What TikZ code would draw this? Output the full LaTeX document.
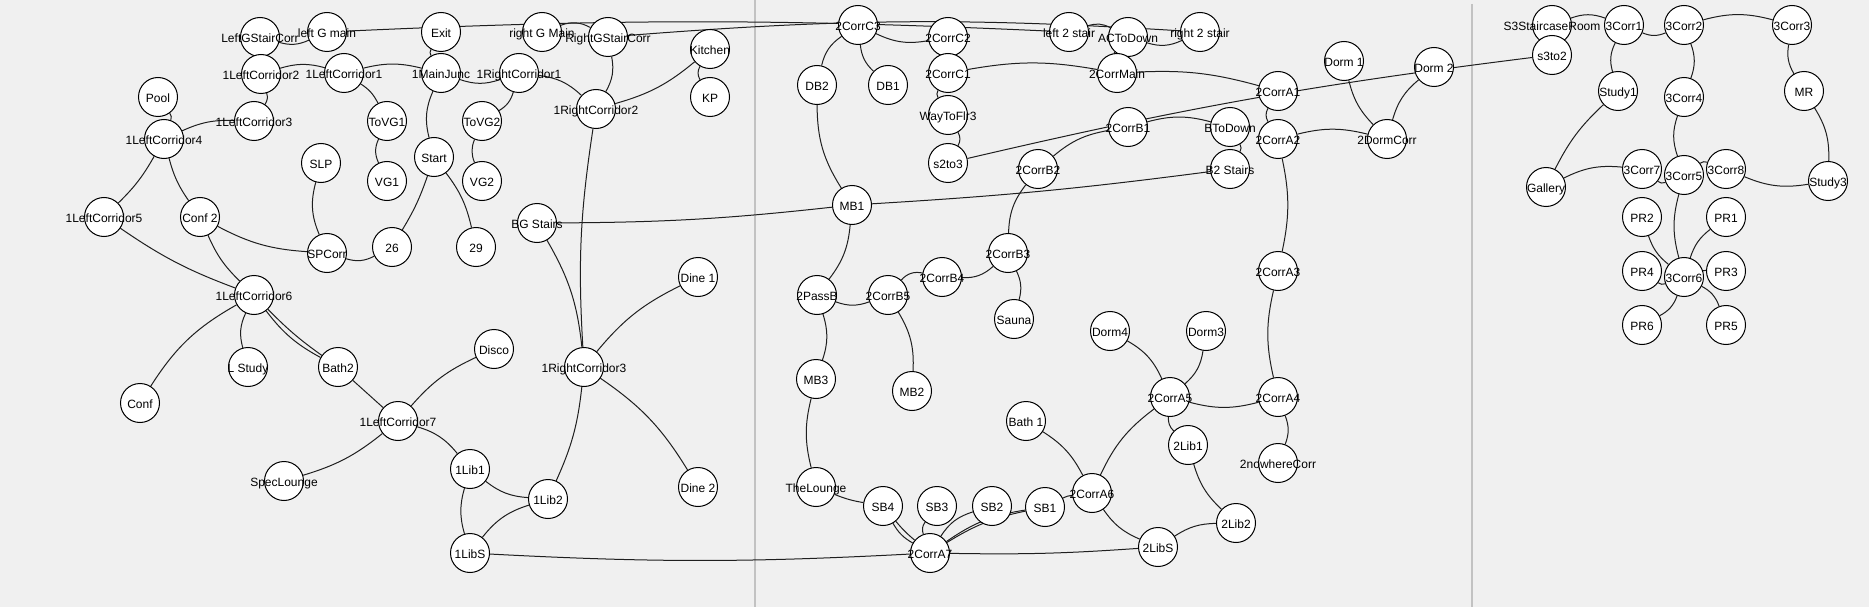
\documentclass[tikz,border=0pt]{standalone}
\usepackage{fontspec}
\setmainfont{Liberation Sans}
\pgfdeclarelayer{bg}
\pgfdeclarelayer{edges}
\pgfdeclarelayer{labels}
\pgfsetlayers{bg,edges,main,labels}
\tikzset{
  vtx/.style={circle,draw=black,fill=white,line width=1pt,minimum size=39pt,inner sep=0pt},
  lbl/.style={inner sep=0pt,text height=8.6pt,text depth=0pt,font=\fontsize{12}{14}\selectfont},
  edge/.style={draw=black!88,line width=1pt},
  sepline/.style={draw=black!24,line width=2.8pt}
}
\newcommand\V[4]{\node[vtx] (#1) at (#2,#3) {};%
  \begin{pgfonlayer}{labels}\node[lbl] (#1-t) at (#2,#3+1) {#4};\end{pgfonlayer}}
\newcommand\E[3]{\draw[edge] (#1) to[#3] (#2);}
\begin{document}
\begin{tikzpicture}[x=1pt,y=-1pt]
\useasboundingbox (0,0) rectangle (1869,607);
\begin{pgfonlayer}{bg}
  \fill[fill={rgb,255:red,240;green,240;blue,240}] (0,0) rectangle (1869,607);
  \coordinate (sa1) at (755,0); \coordinate (sa2) at (755,607);
  \coordinate (sb1) at (1472,4); \coordinate (sb2) at (1472,607);
  \draw[sepline] (sa1) -- (sa2);
  \draw[sepline] (sb1) -- (sb2);
\end{pgfonlayer}
% ---------- floor 1 ----------
\V{LGSC}{260}{37}{LeftGStairCorr}
\V{LGM}{327}{32}{left G main}
\V{Exit}{441}{32}{Exit}
\V{LC2}{261}{74}{1LeftCorridor2}
\V{LC1}{344}{73}{1LeftCorridor1}
\V{MJ}{441}{73}{1MainJunc}
\V{Pool}{158}{97}{Pool}
\V{LC4}{164}{139}{1LeftCorridor4}
\V{LC3}{254}{121}{1LeftCorridor3}
\V{ToVG1}{387}{121}{ToVG1}
\V{SLP}{321}{163}{SLP}
\V{VG1}{387}{181}{VG1}
\V{Start}{434}{157}{Start}
\V{LC5}{104}{217}{1LeftCorridor5}
\V{Conf2}{200}{217}{Conf 2}
\V{SPCorr}{327}{253}{SPCorr}
\V{n26}{392}{247}{26}
\V{LC6}{254}{295}{1LeftCorridor6}
\V{LStudy}{248}{367}{L Study}
\V{Bath2}{338}{367}{Bath2}
\V{Conf}{140}{403}{Conf}
\V{LC7}{398}{421}{1LeftCorridor7}
\V{SpecLounge}{284}{481}{SpecLounge}
\V{Lib1}{470}{469}{1Lib1}
\V{LibS}{470}{553}{1LibS}
\V{Lib2}{548}{499}{1Lib2}
\V{Disco}{494}{349}{Disco}
\V{RGM}{542}{32}{right G Main}
\V{RGSC}{608}{37}{RightGStairCorr}
\V{Kitchen}{710}{49}{Kitchen}
\V{KP}{710}{97}{KP}
\V{RC1}{519}{73}{1RightCorridor1}
\V{RC2}{596}{109}{1RightCorridor2}
\V{ToVG2}{482}{121}{ToVG2}
\V{VG2}{482}{181}{VG2}
\V{n29}{476}{247}{29}
\V{BGS}{537}{223}{BG Stairs}
\V{RC3}{584}{367}{1RightCorridor3}
\V{Dine1}{698}{277}{Dine 1}
\V{Dine2}{698}{487}{Dine 2}
% ---------- floor 2 ----------
\V{C3}{858}{25}{2CorrC3}
\V{DB2}{817}{85}{DB2}
\V{DB1}{888}{85}{DB1}
\V{MB1}{852}{205}{MB1}
\V{PassB}{817}{295}{2PassB}
\V{B5}{888}{295}{2CorrB5}
\V{MB3}{816}{379}{MB3}
\V{MB2}{912}{391}{MB2}
\V{Lounge}{816}{487}{TheLounge}
\V{SB4}{883}{506}{SB4}
\V{SB3}{937}{506}{SB3}
\V{SB2}{992}{506}{SB2}
\V{SB1}{1045}{507}{SB1}
\V{A7}{930}{553}{2CorrA7}
\V{C2}{948}{37}{2CorrC2}
\V{L2S}{1069}{32}{left 2 stair}
\V{ACTD}{1128}{37}{ACToDown}
\V{R2S}{1200}{32}{right 2 stair}
\V{C1}{948}{73}{2CorrC1}
\V{CMain}{1117}{73}{2CorrMain}
\V{Dorm1}{1344}{61}{Dorm 1}
\V{A1}{1278}{91}{2CorrA1}
\V{W3}{948}{115}{WayToFlr3}
\V{B1}{1128}{127}{2CorrB1}
\V{BTD}{1230}{127}{BToDown}
\V{A2}{1278}{139}{2CorrA2}
\V{s2to3}{948}{163}{s2to3}
\V{B2}{1038}{169}{2CorrB2}
\V{B2S}{1230}{169}{B2 Stairs}
\V{B3}{1008}{253}{2CorrB3}
\V{B4}{942}{277}{2CorrB4}
\V{A3}{1278}{271}{2CorrA3}
\V{DormCorr}{1387}{139}{2DormCorr}
\V{Dorm2}{1434}{67}{Dorm 2}
\V{Sauna}{1014}{319}{Sauna}
\V{Dorm4}{1110}{331}{Dorm4}
\V{Dorm3}{1206}{331}{Dorm3}
\V{A5}{1170}{397}{2CorrA5}
\V{A4}{1278}{397}{2CorrA4}
\V{Bath1}{1026}{421}{Bath 1}
\V{Lib21}{1188}{445}{2Lib1}
\V{Nowhere}{1278}{463}{2nowhereCorr}
\V{A6}{1092}{493}{2CorrA6}
\V{Lib22}{1236}{523}{2Lib2}
\V{LibS2}{1158}{547}{2LibS}
% ---------- floor 3 ----------
\V{S3}{1552}{25}{S3StaircaseRoom}
\V{s3to2}{1552}{55}{s3to2}
\V{T1}{1624}{25}{3Corr1}
\V{T2}{1684}{25}{3Corr2}
\V{T3}{1792}{25}{3Corr3}
\V{Study1}{1618}{91}{Study1}
\V{T4}{1684}{97}{3Corr4}
\V{MR}{1804}{91}{MR}
\V{Gallery}{1546}{187}{Gallery}
\V{T7}{1642}{169}{3Corr7}
\V{T5}{1684}{175}{3Corr5}
\V{T8}{1726}{169}{3Corr8}
\V{Study3}{1828}{181}{Study3}
\V{PR2}{1642}{217}{PR2}
\V{PR1}{1726}{217}{PR1}
\V{PR4}{1642}{271}{PR4}
\V{T6}{1684}{277}{3Corr6}
\V{PR3}{1726}{271}{PR3}
\V{PR6}{1642}{325}{PR6}
\V{PR5}{1726}{325}{PR5}
% ---------- edges ----------
\begin{pgfonlayer}{edges}
\E{LGSC}{LGM}{bend right=20}
\E{LGM}{L2S}{bend left=2.6}
\E{Exit}{MJ}{bend right=30}
\E{LC2}{LC1}{bend left=16}
\E{LC1}{MJ}{bend left=14}
\E{LC2}{LC3}{bend left=25}
\E{Pool}{LC4}{bend left=28}
\E{LC4}{LC3}{bend left=13}
\E{LC1}{ToVG1}{bend left=15}
\E{ToVG1}{VG1}{bend right=25}
\E{MJ}{Start}{bend right=19}
\E{MJ}{RC1}{bend right=19}
\E{LC4}{LC5}{bend left=8}
\E{LC4}{Conf2}{bend right=10}
\E{SLP}{SPCorr}{bend right=19}
\E{Start}{n26}{bend left=6}
\E{Start}{n29}{bend left=12}
\E{Conf2}{SPCorr}{bend right=12}
\E{SPCorr}{n26}{bend right=22}
\E{LC5}{LC6}{bend right=7}
\E{Conf2}{LC6}{bend right=11}
\E{LC6}{Conf}{bend right=14}
\E{LC6}{LStudy}{bend right=20}
\E{LC6}{Bath2}{bend right=5}
\E{LC6}{Bath2}{bend right=12}
\E{Bath2}{LC7}{}
\E{LC7}{Disco}{bend left=12}
\E{LC7}{SpecLounge}{bend left=11}
\E{LC7}{Lib1}{bend left=17}
\E{Lib1}{LibS}{bend right=16}
\E{Lib1}{Lib2}{bend right=17}
\E{LibS}{Lib2}{bend left=17}
\E{LibS}{A7}{bend right=3}
\E{RC1}{ToVG2}{bend left=21}
\E{ToVG2}{VG2}{bend right=22}
\E{RC1}{RC2}{bend left=18}
\E{RGSC}{RC2}{bend left=20}
\E{RC2}{Kitchen}{bend right=12}
\E{Kitchen}{KP}{bend right=30}
\E{RC2}{RC3}{bend right=6}
\E{BGS}{RC3}{bend left=12}
\E{BGS}{MB1}{bend right=3}
\E{RC3}{Dine1}{bend left=12}
\E{RC3}{Dine2}{bend left=12}
\E{RC3}{Lib2}{bend left=9}
\E{RGM}{RGSC}{bend left=24}
\E{RGSC}{R2S}{bend left=4}
\E{C3}{C2}{bend right=18}
\E{C3}{DB2}{bend right=21}
\E{C3}{DB1}{bend right=20}
\E{DB2}{MB1}{bend right=16}
\E{MB1}{PassB}{bend left=16}
\E{MB1}{B2S}{bend right=2}
\E{PassB}{B5}{bend right=20}
\E{B5}{B4}{bend left=30}
\E{B4}{B3}{bend right=22}
\E{B3}{Sauna}{bend left=20}
\E{B3}{B2}{bend left=18}
\E{B2}{B1}{bend left=15}
\E{s2to3}{s3to2}{bend left=3}
\E{B1}{BTD}{bend left=15}
\E{BTD}{B2S}{bend left=30}
\E{C1}{W3}{bend right=30}
\E{W3}{s2to3}{bend left=30}
\E{C1}{CMain}{bend left=10}
\E{CMain}{A1}{bend left=9}
\E{ACTD}{CMain}{bend right=25}
\E{L2S}{ACTD}{bend left=23}
\E{ACTD}{R2S}{bend right=21}
\E{A1}{A2}{bend right=30}
\E{A2}{DormCorr}{bend left=14}
\E{Dorm1}{DormCorr}{bend right=15}
\E{Dorm2}{DormCorr}{bend right=17}
\E{A2}{A3}{bend left=12}
\E{A3}{A4}{bend right=13}
\E{A4}{Nowhere}{bend left=21}
\E{A5}{A4}{bend right=15}
\E{Dorm4}{A5}{bend left=18}
\E{Dorm3}{A5}{bend left=20}
\E{A5}{Lib21}{bend right=25}
\E{A5}{A6}{bend right=14}
\E{Lib21}{Lib22}{bend right=15}
\E{Bath1}{A6}{bend left=15}
\E{SB1}{A6}{bend left=10}
\E{A6}{LibS2}{bend right=16}
\E{LibS2}{Lib22}{bend left=16}
\E{LibS2}{A7}{bend left=2.5}
\E{SB4}{A7}{bend right=5}
\E{SB4}{A7}{bend right=15}
\E{SB3}{A7}{bend right=28}
\E{SB2}{A7}{bend right=20}
\E{A7}{SB1}{bend left=10}
\E{A7}{SB1}{bend left=13}
\E{Lounge}{SB4}{bend right=6}
\E{MB3}{Lounge}{bend right=14}
\E{PassB}{MB3}{bend left=18}
\E{B5}{MB2}{bend left=17}
\E{S3}{T1}{bend left=20}
\E{T1}{T2}{bend right=23}
\E{T2}{T3}{bend left=15}
\E{T1}{Study1}{bend right=21}
\E{T2}{T4}{bend left=20}
\E{T3}{MR}{bend right=20}
\E{MR}{Study3}{bend left=17}
\E{Study1}{Gallery}{bend right=10}
\E{Gallery}{T7}{bend left=16}
\E{T4}{T5}{bend right=19}
\E{T7}{T5}{bend right=30}
\E{T5}{T8}{bend left=28}
\E{T8}{Study3}{bend right=16}
\E{T5}{T6}{bend right=15}
\E{PR2}{T6}{bend right=16}
\E{PR1}{T6}{bend right=17}
\E{PR4}{T6}{bend right=28}
\E{T6}{PR3}{bend left=10}
\E{T6}{PR6}{bend left=21}
\E{T6}{PR5}{bend left=21}
\end{pgfonlayer}
\end{tikzpicture}
\end{document}
